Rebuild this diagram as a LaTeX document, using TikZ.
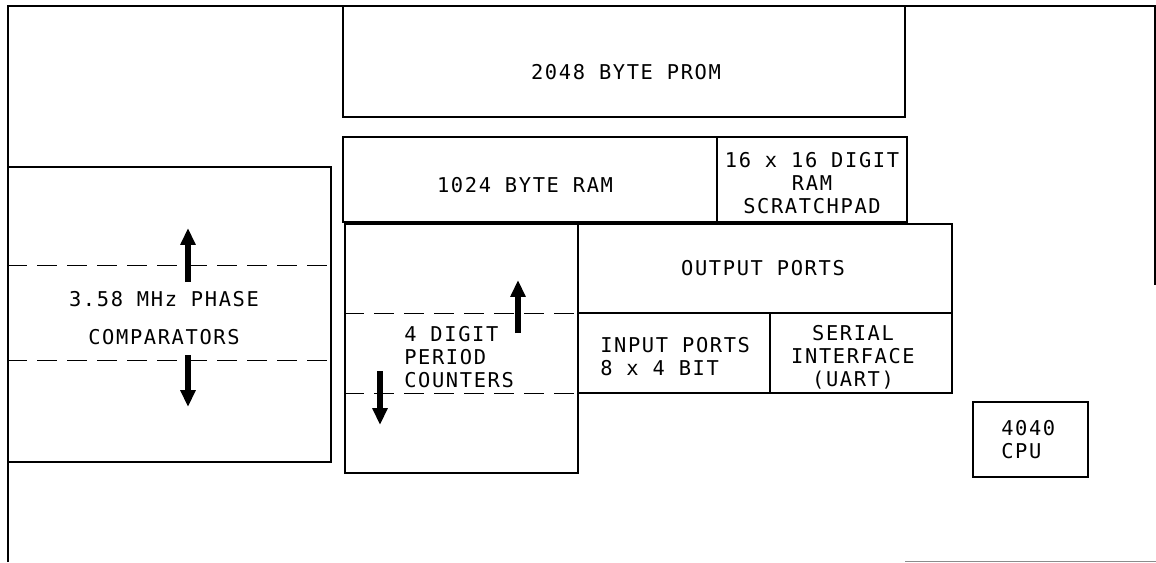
\documentclass[tikz,border=0pt]{standalone}
\usepackage{fontspec}
\setmonofont{DejaVu Sans Mono}[LetterSpace=8]
\usetikzlibrary{arrows.meta}
\newcommand{\fLbl}{\fontsize{14.5}{16.3}\selectfont\ttfamily}

\begin{document}
\begin{tikzpicture}[x=0.025cm,y=-0.025cm,
  blk/.style={draw,line width=0.9pt,inner sep=0pt},
  lbl/.style={inner sep=0pt,font=\fLbl,align=center},
  sep/.style={line width=0.6pt,dash pattern=on 5mm off 2.5mm},
  mv/.style={-{Triangle[length=4.2mm,width=3.6mm]},line width=3.8pt}]
  \useasboundingbox (0,0) rectangle (1156,562);
  \draw[line width=0.9pt] (8,562) -- (8,6) -- (1155,6) -- (1155,285);
  \draw[line width=0.7pt,black!45] (905,561) -- (1156,561);
  \node[blk,minimum width=14.05cm,minimum height=2.775cm] (prom) at (624,61.5) {};
  \node[blk,minimum width=9.35cm,minimum height=2.125cm] (ram) at (530,179.5) {};
  \node[blk,minimum width=4.75cm,minimum height=2.125cm] (pad) at (812,179.5) {};
  \node[blk,minimum width=8.075cm,minimum height=7.375cm] (phase) at (169.5,314.5) {};
  \node[blk,minimum width=5.825cm,minimum height=6.225cm] (cnt) at (461.5,348.5) {};
  \node[blk,minimum width=9.35cm,minimum height=2.225cm] (outp) at (765,268.5) {};
  \node[blk,minimum width=4.8cm,minimum height=2cm] (inp) at (674,353) {};
  \node[blk,minimum width=4.55cm,minimum height=2cm] (uart) at (861,353) {};
  \node[blk,minimum width=2.875cm,minimum height=1.875cm] (cpu) at (1030.5,439.5) {};
  \node[lbl] (promtxt) at (626,72) {2048 BYTE PROM};
  \node[lbl] (ramtxt) at (525,185) {1024 BYTE RAM};
  \node[lbl] (padtxt) at (812,183) {16 x 16 DIGIT\\RAM\\SCRATCHPAD};
  \node[lbl] (phasetxt) at (164,318) {3.58 MHz PHASE\\[3.7mm]COMPARATORS};
  \node[lbl,anchor=west,align=left] (cnttxt) at (404,357) {4 DIGIT\\PERIOD\\COUNTERS};
  \node[lbl] (outptxt) at (763,268) {OUTPUT PORTS};
  \node[lbl,anchor=west,align=left] (inptxt) at (600,356.5) {INPUT PORTS\\8 x 4 BIT};
  \node[lbl] (uarttxt) at (853,357) {SERIAL\\INTERFACE\\(UART)};
  \node[lbl,anchor=west,align=left] (cputxt) at (1001,440) {4040\\CPU};
  \coordinate (ph1) at (0,265);
  \coordinate (ph2) at (0,360);
  \coordinate (ct1) at (0,313);
  \coordinate (ct2) at (0,393);
  \draw[sep] (phase.west |- ph1) -- (phase.east |- ph1);
  \draw[sep] (phase.west |- ph2) -- (phase.east |- ph2);
  \draw[sep] (cnt.west |- ct1) -- (cnt.east |- ct1);
  \draw[sep] (cnt.west |- ct2) -- (cnt.east |- ct2);
  \draw[mv] (188,282) -- (188,228);
  \draw[mv] (188,355) -- (188,407);
  \draw[mv] (518,333) -- (518,280);
  \draw[mv] (380,371) -- (380,425);
\end{tikzpicture}
\end{document}
